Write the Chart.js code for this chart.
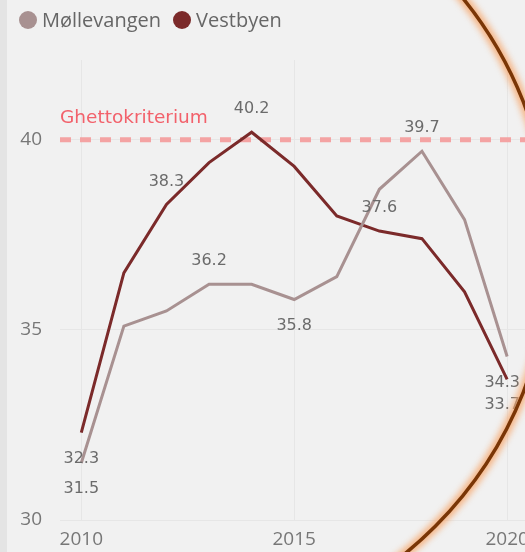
<!DOCTYPE html>
<html>
<head>
<meta charset="utf-8">
<script src="https://cdn.jsdelivr.net/npm/chart.js@4"></script>
<style>
  html, body { margin: 0; padding: 0; width: 525px; height: 552px; overflow: hidden; background: #f1f1f1; }
  #strip { position: absolute; left: 0; top: 0; width: 7px; height: 552px; background: #e4e4e4; }
  #wrap { position: absolute; left: 0; top: 0; width: 537px; height: 552px; }
  #legend { position: absolute; left: 19px; top: 8px; display: flex; align-items: center;
            font-family: 'Open Sans', sans-serif; font-size: 20px; line-height: 24px; color: #666; }
  .item { display: flex; align-items: center; margin-right: 12px; }
  .dot { width: 18px; height: 18px; border-radius: 50%; margin-right: 5px; }
</style>
</head>
<body>
<div id="strip"></div>
<div id="wrap"><canvas id="chart"></canvas></div>
<div id="legend"></div>
<script>
const years = [2010, 2011, 2012, 2013, 2014, 2015, 2016, 2017, 2018, 2019, 2020];
const mollevangen = [31.5, 35.1, 35.5, 36.2, 36.2, 35.8, 36.4, 38.7, 39.7, 37.9, 34.3];
const vestbyen = [32.3, 36.5, 38.3, 39.4, 40.2, 39.3, 38.0, 37.6, 37.4, 36.0, 33.7];
const seriesNames = ['Møllevangen', 'Vestbyen'];
const xTicks = [2010, 2015, 2020];
const yTicks = [30, 35, 40];
const threshold = 40;
const thresholdName = 'Ghettokriterium';

// points that carry a data label, and on which side of the line it sits
const mollevangenLabels = { 0: 'below', 3: 'above', 5: 'below', 8: 'above', 10: 'below' };
const vestbyenLabels = { 0: 'below', 2: 'above', 4: 'above', 7: 'above', 10: 'below' };

const colors = ['#a89191', '#7b2a2a'];

const toPoints = vals => years.map((y, i) => ({ x: y, y: vals[i] }));

// legend
const legend = document.getElementById('legend');
seriesNames.forEach((name, i) => {
  const item = document.createElement('div');
  item.className = 'item';
  item.innerHTML = '<span class="dot" style="background:' + colors[i] + '"></span>' + name;
  legend.appendChild(item);
});

const thresholdLine = {
  id: 'thresholdLine',
  beforeDatasetsDraw(chart) {
    const { ctx, chartArea, scales } = chart;
    const y = scales.y.getPixelForValue(threshold);
    ctx.save();
    ctx.strokeStyle = '#f4a3a3';
    ctx.lineWidth = 5;
    ctx.setLineDash([11, 9]);
    ctx.beginPath();
    ctx.moveTo(chartArea.left, y);
    ctx.lineTo(chartArea.right, y);
    ctx.stroke();
    ctx.setLineDash([]);
    ctx.fillStyle = '#f2616b';
    ctx.font = '18.5px "DejaVu Sans"';
    ctx.textAlign = 'left';
    ctx.textBaseline = 'middle';
    ctx.fillText(thresholdName, chartArea.left, y - 22);
    ctx.restore();
  }
};

const pointLabels = {
  id: 'pointLabels',
  afterDatasetsDraw(chart) {
    const { ctx } = chart;
    ctx.save();
    ctx.font = '16px "DejaVu Sans"';
    ctx.fillStyle = '#6b6b6b';
    ctx.textAlign = 'center';
    ctx.textBaseline = 'middle';
    chart.data.datasets.forEach((ds, di) => {
      const meta = chart.getDatasetMeta(di);
      Object.entries(ds.labelled).forEach(([idx, side]) => {
        const el = meta.data[idx];
        const text = ds.data[idx].y.toFixed(1);
        const w = ctx.measureText(text).width;
        let x = el.x;
        if (x + w / 2 > 520) x = 520 - w / 2;
        const y = side === 'above' ? el.y - 23 : el.y + 26;
        ctx.fillText(text, x, y);
      });
    });
    ctx.restore();
  }
};

const ring = {
  id: 'ring',
  afterDraw(chart) {
    const { ctx } = chart;
    ctx.save();
    ctx.filter = 'blur(3px)';
    ctx.strokeStyle = 'rgba(246, 165, 105, 0.8)';
    ctx.lineWidth = 10;
    ctx.beginPath();
    ctx.arc(156, 247, 395, 0, Math.PI * 2);
    ctx.stroke();
    ctx.filter = 'none';
    ctx.strokeStyle = '#7a3606';
    ctx.lineWidth = 3.5;
    ctx.beginPath();
    ctx.arc(156, 247, 395, 0, Math.PI * 2);
    ctx.stroke();
    ctx.restore();
  }
};

new Chart(document.getElementById('chart'), {
  type: 'line',
  data: {
    datasets: [
      { label: seriesNames[0], data: toPoints(mollevangen), borderColor: colors[0], labelled: mollevangenLabels,
        borderWidth: 3, pointRadius: 0, tension: 0 },
      { label: seriesNames[1], data: toPoints(vestbyen), borderColor: colors[1], labelled: vestbyenLabels,
        borderWidth: 3, pointRadius: 0, tension: 0 }
    ]
  },
  options: {
    responsive: true,
    maintainAspectRatio: false,
    animation: false,
    layout: { padding: { top: 60, right: 3, left: 0, bottom: 0 } },
    plugins: { legend: { display: false }, tooltip: { enabled: false } },
    scales: {
      x: {
        type: 'linear',
        min: 2009.5,
        max: 2020.5,
        afterBuildTicks: s => { s.ticks = xTicks.map(v => ({ value: v })); },
        afterFit: s => { s.height = 32; },
        border: { display: false },
        grid: { color: '#e6e6e6', drawTicks: false },
        ticks: {
          padding: 8,
          color: '#777',
          font: { family: 'Open Sans', size: 19 },
          maxRotation: 0,
          callback: v => String(v)
        }
      },
      y: {
        min: 30,
        max: 42.1,
        afterBuildTicks: s => { s.ticks = yTicks.map(v => ({ value: v })); },
        afterFit: s => { s.width = 60; },
        border: { display: false },
        grid: { color: '#e6e6e6', drawTicks: false },
        ticks: {
          padding: 18,
          color: '#777',
          font: { family: 'Open Sans', size: 19 },
          callback: v => String(v)
        }
      }
    }
  },
  plugins: [thresholdLine, pointLabels, ring]
});
</script>
</body>
</html>
